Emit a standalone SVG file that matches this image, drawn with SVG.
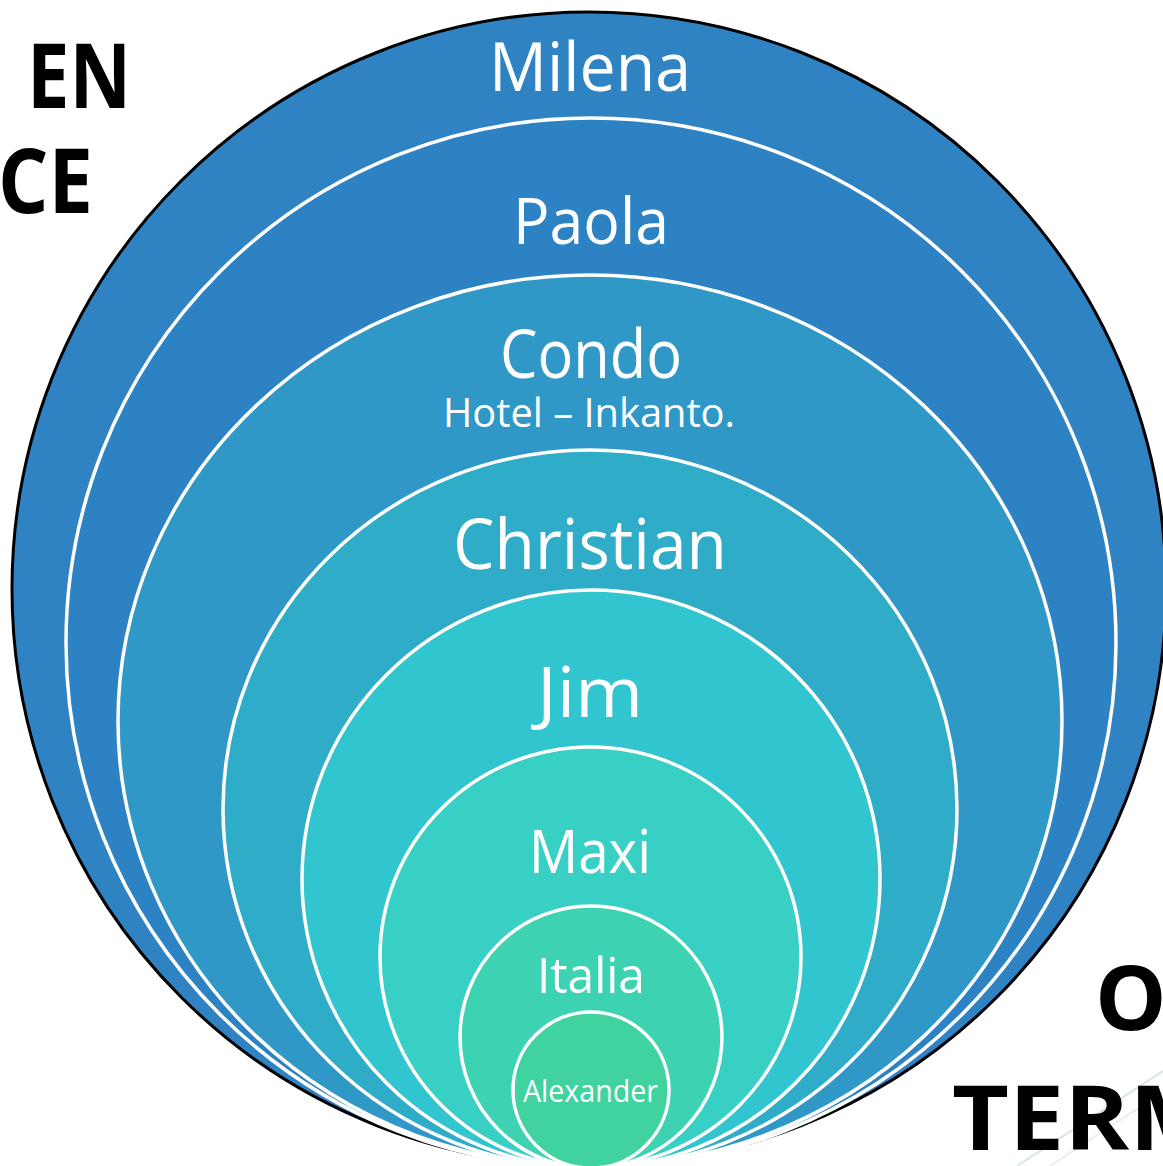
<svg xmlns="http://www.w3.org/2000/svg" width="1163" height="1166" viewBox="0 0 1163 1166">
<style>
.ring{stroke:#ffffff;stroke-width:3.5}
.lbl{font-family:"Open Sans","Noto Sans","DejaVu Sans",sans-serif;fill:#ffffff;text-anchor:middle}
.big{font-family:"Open Sans","Noto Sans","DejaVu Sans",sans-serif;font-weight:700;fill:#000000}
</style>
<rect width="1163" height="1166" fill="#ffffff"/>
<g id="bg-lines" stroke="#d6e6e2" stroke-width="2" fill="none">
<line x1="1163" y1="1071" x2="1017" y2="1166"/>
<line x1="1163" y1="1092" x2="1050" y2="1166" stroke-opacity="0.6"/>
</g>
<g id="node-milena">
<ellipse cx="589" cy="589" rx="577" ry="577" fill="#3083c3" stroke="#000000" stroke-width="3"/>
<text class="lbl" x="590" y="91" font-size="68" textLength="202" lengthAdjust="spacingAndGlyphs">Milena</text>
</g>
<g id="node-paola">
<ellipse class="ring" cx="591" cy="643" rx="525" ry="525" fill="#2c82c2"/>
<text class="lbl" x="591" y="244" font-size="64" textLength="156" lengthAdjust="spacingAndGlyphs">Paola</text>
</g>
<g id="node-condo">
<ellipse class="ring" cx="590" cy="721" rx="472" ry="446" fill="#3098c6"/>
<text class="lbl" x="591" y="378" font-size="67" textLength="182" lengthAdjust="spacingAndGlyphs">Condo</text>
<text class="lbl" x="589" y="427" font-size="40" textLength="292" lengthAdjust="spacingAndGlyphs">Hotel – Inkanto.</text>
</g>
<g id="node-christian">
<ellipse class="ring" cx="590" cy="809" rx="367" ry="359" fill="#2fadc8"/>
<text class="lbl" x="590" y="569" font-size="70" textLength="274" lengthAdjust="spacingAndGlyphs">Christian</text>
</g>
<g id="node-jim">
<ellipse class="ring" cx="591" cy="879" rx="289" ry="289" fill="#31c5cf"/>
<text class="lbl" x="590" y="717" font-size="69" textLength="106" lengthAdjust="spacingAndGlyphs">Jim</text>
</g>
<g id="node-maxi">
<ellipse class="ring" cx="590.5" cy="957" rx="210.5" ry="210" fill="#38cfc4"/>
<text class="lbl" x="590" y="873" font-size="61" textLength="122" lengthAdjust="spacingAndGlyphs">Maxi</text>
</g>
<g id="node-italia">
<ellipse class="ring" cx="591" cy="1037" rx="131" ry="131" fill="#3dd2b1"/>
<text class="lbl" x="591" y="993" font-size="50" textLength="108" lengthAdjust="spacingAndGlyphs">Italia</text>
</g>
<g id="node-alexander">
<ellipse class="ring" cx="591" cy="1090" rx="78" ry="78" fill="#40d3a0"/>
<text class="lbl" x="590.5" y="1102" font-size="31" textLength="135" lengthAdjust="spacingAndGlyphs">Alexander</text>
</g>
<g id="side-text">
<text class="big" x="27" y="108" font-size="90" textLength="104" lengthAdjust="spacingAndGlyphs">EN</text>
<text class="big" x="-2" y="213" font-size="90" textLength="95" lengthAdjust="spacingAndGlyphs">CE</text>
<text class="big" x="1095" y="1030" font-size="90">O</text>
<text class="big" x="952" y="1150" font-size="90" textLength="270" lengthAdjust="spacingAndGlyphs">TERM</text>
</g>
<g id="connectors"/>
</svg>
